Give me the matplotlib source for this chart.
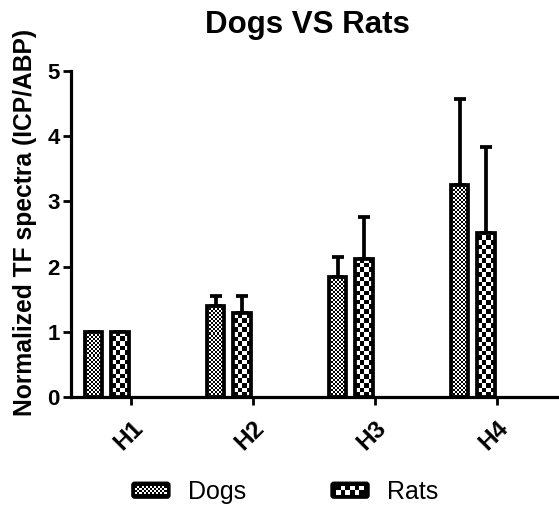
import numpy as np
import matplotlib
matplotlib.use("Agg")
import matplotlib.pyplot as plt
from matplotlib.patches import Rectangle, FancyBboxPatch
from matplotlib.legend_handler import HandlerBase

plt.rcParams["font.family"] = ["Liberation Sans", "DejaVu Sans"]

groups = ["H1", "H2", "H3", "H4"]
dogs = [1.0, 1.40, 1.84, 3.25]
dogs_err = [0.0, 0.15, 0.31, 1.32]
rats = [1.0, 1.29, 2.12, 2.52]
rats_err = [0.0, 0.26, 0.64, 1.31]

DPI = 100
fig = plt.figure(figsize=(5.59, 5.08), dpi=DPI)
ax = fig.add_axes([71 / 559, 111 / 508, 488 / 559, 326 / 508])

x = np.arange(len(groups))
off = 0.1085
width = 0.146
xlim = (-0.293, 3.707)
ylim = (0, 5)

bars_d = ax.bar(x - off, dogs, width, facecolor="none", edgecolor="black",
                linewidth=2.7, zorder=3)
bars_r = ax.bar(x + off, rats, width, facecolor="none", edgecolor="black",
                linewidth=2.7, zorder=3)
ax.errorbar(x - off, dogs, yerr=[np.zeros(4), dogs_err], fmt="none",
            ecolor="black", elinewidth=2.7, capsize=4.5, capthick=2.7, zorder=2)
ax.errorbar(x + off, rats, yerr=[np.zeros(4), rats_err], fmt="none",
            ecolor="black", elinewidth=2.7, capsize=4.5, capthick=2.7, zorder=2)

ax.set_xlim(*xlim)
ax.set_ylim(*ylim)

# checker fill clipped to each bar
ax_w = 488
ax_h = 326
px_x = ax_w / (xlim[1] - xlim[0])
px_y = ax_h / (ylim[1] - ylim[0])


def checker(bars, cell_px):
    cx = cell_px / px_x
    cy = cell_px / px_y
    for b in bars:
        bx, by = b.get_x(), b.get_y()
        bw, bh = b.get_width(), b.get_height()
        nx = int(np.ceil(bw / cx)) + 1
        ny = int(np.ceil(bh / cy)) + 1
        arr = (np.add.outer(np.arange(ny), np.arange(nx)) % 2).astype(float)
        im = ax.imshow(arr, cmap="gray", vmin=0, vmax=1, interpolation="nearest",
                       extent=(bx, bx + nx * cx, by, by + ny * cy),
                       origin="lower", aspect="auto", zorder=2.5)
        im.set_clip_path(b)


checker(bars_d, 2.0)
checker(bars_r, 4.6)
ax.set_xlim(*xlim)
ax.set_ylim(*ylim)

for s in ["top", "right"]:
    ax.spines[s].set_visible(False)
for s in ["left", "bottom"]:
    ax.spines[s].set_linewidth(2.3)

ax.set_yticks(range(6))
ax.set_xticks(x + 0.199)
ax.set_xticklabels(groups, rotation=45, ha="right", va="top",
                   rotation_mode="anchor")
ax.tick_params(axis="both", length=6, width=2.0, labelsize=16, pad=2)
ax.tick_params(axis="x", pad=8, labelsize=17.5)
for t in ax.get_yticklabels() + ax.get_xticklabels():
    t.set_fontweight("bold")

ax.set_ylabel("Normalized TF spectra (ICP/ABP)", fontsize=17.7, fontweight="bold")
ax.yaxis.set_label_coords(-0.07, 0.535)
fig.text(307 / 559, 475 / 508, "Dogs VS Rats", fontsize=22.5, fontweight="bold",
         ha="center", va="baseline")


class CheckerHandler(HandlerBase):
    def __init__(self, cell):
        super().__init__()
        self.cell = cell

    def create_artists(self, legend, orig_handle, xdescent, ydescent, width,
                       height, fontsize, trans):
        x0, y0 = -xdescent, -ydescent
        arts = [FancyBboxPatch((x0, y0), width, height,
                               boxstyle="round,pad=0,rounding_size=2",
                               facecolor="black", edgecolor="black",
                               transform=trans)]
        b = 2.2
        nx = int((width - 2 * b) // self.cell)
        ny = int((height - 2 * b) // self.cell)
        ix0 = x0 + (width - nx * self.cell) / 2
        iy0 = y0 + (height - ny * self.cell) / 2
        for i in range(nx):
            for j in range(ny):
                if (i + j) % 2 == 0:
                    arts.append(Rectangle((ix0 + i * self.cell, iy0 + j * self.cell),
                                          self.cell, self.cell, facecolor="white",
                                          edgecolor="none", transform=trans))
        return arts


fig.legend([bars_d, bars_r], ["Dogs", "Rats"], loc="center",
           bbox_to_anchor=(0.51, 16 / 508), ncol=2, frameon=False, fontsize=18,
           handlelength=1.52, handleheight=0.6, columnspacing=3.4,
           handletextpad=0.72, borderaxespad=0, borderpad=0,
           handler_map={bars_d: CheckerHandler(1.5), bars_r: CheckerHandler(3.3)})

fig.savefig("out.png", dpi=DPI)
